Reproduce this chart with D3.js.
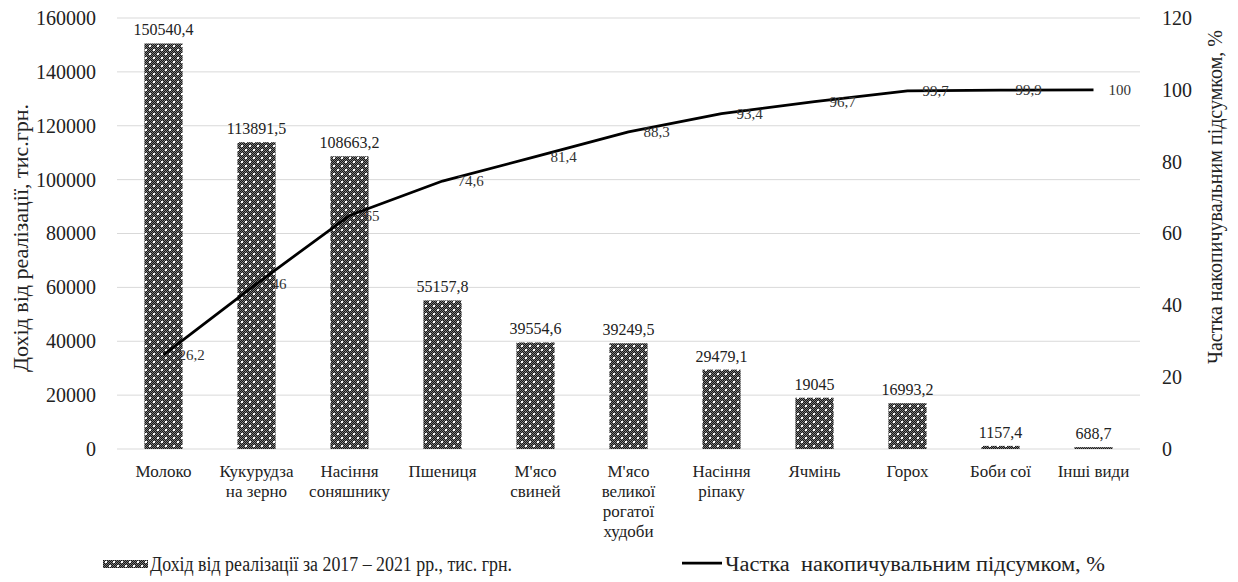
<!DOCTYPE html>
<html>
<head>
<meta charset="utf-8">
<script src="https://cdn.jsdelivr.net/npm/d3@7"></script>
<style>
  html, body { margin: 0; padding: 0; background: #fff; }
  svg { display: block; }
</style>
</head>
<body>
<svg id="chart" width="1238" height="582"></svg>
<script>
// Products (multi-line labels split on "\n")
const categories = [
  "Молоко", "Кукурудза\nна зерно", "Насіння\nсоняшнику", "Пшениця",
  "М'ясо\nсвиней", "М'ясо\nвеликої\nрогатої\nхудоби", "Насіння\nріпаку",
  "Ячмінь", "Горох", "Боби сої", "Інші види"
];
// Revenue from sales 2017–2021, thousand UAH
const revenue = [150540.4, 113891.5, 108663.2, 55157.8, 39554.6, 39249.5, 29479.1, 19045, 16993.2, 1157.4, 688.7];
// Cumulative share, %
const cumulativeShare = [26.2, 46, 65, 74.6, 81.4, 88.3, 93.4, 96.7, 99.7, 99.9, 100];
// Axis ticks
const leftTicks = [0, 20000, 40000, 60000, 80000, 100000, 120000, 140000, 160000];
const rightTicks = [0, 20, 40, 60, 80, 100, 120];

const legendBars = "Дохід від реалізації за 2017 – 2021 рр., тис. грн.";
const legendLine = "Частка  накопичувальним підсумком, %";
const leftTitle = "Дохід від реалізації, тис.грн.";
const rightTitle = "Частка накопичувальним підсумком, %";

const FONT = '"Liberation Serif"';
const svg = d3.select("#chart");
const plot = { left: 117, right: 1140, top: 18, bottom: 449 };

const fmt = v => String(v).replace(".", ",");
const serif = sel => sel.style("font-family", FONT);

// Hatched fill: fine checker with a lattice of white dots
const defs = svg.append("defs");
const checker = defs.append("pattern")
  .attr("id", "checker").attr("patternUnits", "userSpaceOnUse")
  .attr("width", 2).attr("height", 2);
checker.append("rect").attr("width", 2).attr("height", 2).attr("fill", "#151515");
checker.append("rect").attr("width", 1).attr("height", 1).attr("fill", "#7a7a7a");
checker.append("rect").attr("x", 1).attr("y", 1).attr("width", 1).attr("height", 1).attr("fill", "#7a7a7a");

const hatch = defs.append("pattern")
  .attr("id", "hatch").attr("patternUnits", "userSpaceOnUse")
  .attr("width", 8).attr("height", 8);
hatch.append("rect").attr("width", 8).attr("height", 8).attr("fill", "url(#checker)");
hatch.append("rect").attr("x", 1).attr("y", 1).attr("width", 2).attr("height", 2).attr("fill", "#fff");
hatch.append("rect").attr("x", 5).attr("y", 5).attr("width", 2).attr("height", 2).attr("fill", "#fff");

const x = d3.scaleBand().domain(categories).range([plot.left, plot.right]).paddingInner(0.59).paddingOuter(0.295);
const yL = d3.scaleLinear().domain([0, 160000]).range([plot.bottom, plot.top]);
const yR = d3.scaleLinear().domain([0, 120]).range([plot.bottom, plot.top]);
const cx = d => x(d) + x.bandwidth() / 2;

// Gridlines
svg.append("g").selectAll("line").data(leftTicks).join("line")
  .attr("x1", plot.left).attr("x2", plot.right)
  .attr("y1", d => yL(d)).attr("y2", d => yL(d))
  .attr("stroke", "#d9d9d9").attr("stroke-width", 1);

// Left axis
const axL = svg.append("g").attr("transform", `translate(${plot.left},0)`)
  .call(d3.axisLeft(yL).tickValues(leftTicks).tickFormat(d3.format("d")).tickSize(0).tickPadding(21));
axL.select(".domain").remove();
axL.selectAll("text").call(serif).style("font-size", "20px").attr("fill", "#222");

// Right axis
const axR = svg.append("g").attr("transform", `translate(${plot.right},0)`)
  .call(d3.axisRight(yR).tickValues(rightTicks).tickFormat(d3.format("d")).tickSize(0).tickPadding(22));
axR.select(".domain").remove();
axR.selectAll("text").call(serif).style("font-size", "20px").attr("fill", "#222");

// Bars
svg.append("g").selectAll("rect").data(categories).join("rect")
  .attr("x", d => x(d)).attr("width", x.bandwidth())
  .attr("y", (d, i) => yL(revenue[i]))
  .attr("height", (d, i) => yL(0) - yL(revenue[i]))
  .attr("fill", "url(#hatch)");

// Bar value labels
svg.append("g").selectAll("text").data(categories).join("text")
  .call(serif)
  .attr("x", d => cx(d)).attr("y", (d, i) => yL(revenue[i]) - 8)
  .attr("text-anchor", "middle").style("font-size", "16px").attr("fill", "#222")
  .text((d, i) => fmt(revenue[i]));

// Cumulative line
const line = d3.line().x((d, i) => cx(categories[i])).y(d => yR(d));
svg.append("path").datum(cumulativeShare)
  .attr("d", line).attr("fill", "none").attr("stroke", "#000")
  .attr("stroke-width", 2.75).attr("stroke-linejoin", "round");

svg.append("g").selectAll("text").data(cumulativeShare).join("text")
  .call(serif)
  .attr("x", (d, i) => cx(categories[i]) + 15).attr("y", d => yR(d) + 5)
  .style("font-size", "15px").attr("fill", "#333")
  .text(d => fmt(d));

// Category labels
const cat = svg.append("g").selectAll("text").data(categories).join("text")
  .call(serif)
  .attr("x", d => cx(d)).attr("y", 477)
  .attr("text-anchor", "middle").style("font-size", "17px").attr("fill", "#222");
cat.selectAll("tspan").data(d => d.split("\n")).join("tspan")
  .attr("x", function () { return d3.select(this.parentNode).attr("x"); })
  .attr("dy", (d, i) => i === 0 ? 0 : 20)
  .text(d => d);

// Axis titles
svg.append("text").call(serif).attr("transform", `translate(28,238) rotate(-90)`)
  .attr("text-anchor", "middle").style("font-size", "22px").attr("fill", "#222").text(leftTitle);
svg.append("text").call(serif).attr("transform", `translate(1222,197) rotate(-90)`)
  .attr("text-anchor", "middle").style("font-size", "20px").attr("fill", "#222").text(rightTitle);

// Legend
const lg = svg.append("g");
lg.append("rect").attr("x", 103).attr("y", 560).attr("width", 45).attr("height", 8).attr("fill", "url(#hatch)");
lg.append("text").call(serif).attr("x", 150).attr("y", 571).style("font-size", "20px").attr("fill", "#222")
  .attr("textLength", 362).attr("lengthAdjust", "spacingAndGlyphs").text(legendBars);
lg.append("line").attr("x1", 682).attr("x2", 722).attr("y1", 563).attr("y2", 563)
  .attr("stroke", "#000").attr("stroke-width", 2.75);
lg.append("text").call(serif).attr("x", 725).attr("y", 571).style("font-size", "20px").attr("fill", "#222")
  .style("white-space", "pre").attr("textLength", 380).attr("lengthAdjust", "spacingAndGlyphs").text(legendLine);
</script>
</body>
</html>
